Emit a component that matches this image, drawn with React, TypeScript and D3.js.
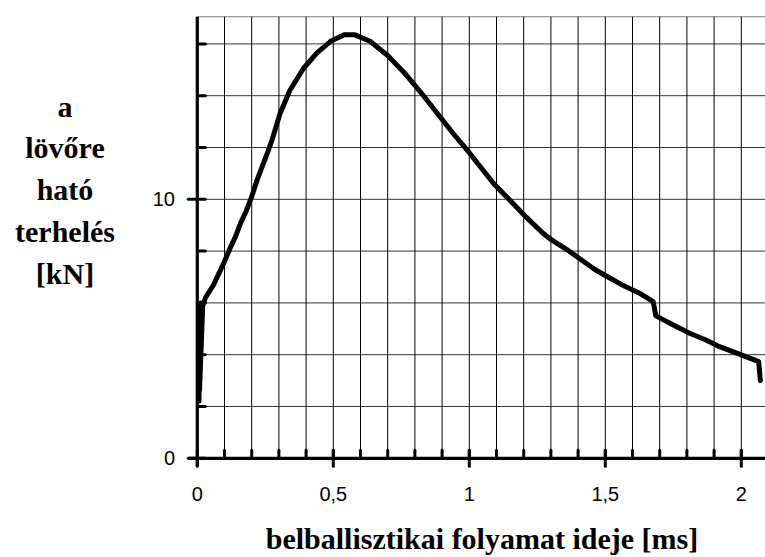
import React from "react";
import * as d3 from "d3";

const times = [0.006, 0.012, 0.008, 0.020, 0.030, 0.045, 0.060, 0.080, 0.100, 0.120, 0.140, 0.160, 0.180, 0.200, 0.220, 0.240, 0.260, 0.275, 0.304, 0.340, 0.390, 0.440, 0.490, 0.540, 0.580, 0.635, 0.700, 0.760, 0.820, 0.880, 0.940, 1.000, 1.090, 1.160, 1.210, 1.270, 1.300, 1.360, 1.400, 1.460, 1.510, 1.570, 1.630, 1.676, 1.686, 1.750, 1.810, 1.870, 1.920, 2.000, 2.064, 2.070];
const forces = [2.2, 6.0, 2.6, 5.9, 6.2, 6.45, 6.7, 7.15, 7.6, 8.1, 8.55, 9.1, 9.55, 10.1, 10.75, 11.3, 11.85, 12.3, 13.3, 14.2, 15.05, 15.65, 16.1, 16.35, 16.35, 16.1, 15.55, 14.9, 14.15, 13.35, 12.55, 11.8, 10.6, 9.85, 9.3, 8.7, 8.45, 8.05, 7.75, 7.3, 7.0, 6.65, 6.35, 6.05, 5.5, 5.15, 4.83, 4.57, 4.31, 3.99, 3.73, 3.0];

const xTickValues = [0, 0.5, 1, 1.5, 2];
const xTickLabels = ["0", "0,5", "1", "1,5", "2"];
const yTickValues = [0, 10];
const yTickLabels = ["0", "10"];
const yTitleLines = ["a", "lövőre", "ható", "terhelés", "[kN]"];
const xTitle = "belballisztikai folyamat ideje [ms]";

const W = 765;
const H = 557;
const yMax = 17.05;

export default function App() {
  const x = d3.scaleLinear().domain([0, 2]).range([197.3, 741.3]);
  const y = d3.scaleLinear().domain([0, 10]).range([458.3, 199.3]);
  const rightEdge = W;
  const topY = y(yMax);

  const minorX = d3.range(1, 22).map((i) => i / 10).filter((v) => x(v) < rightEdge - 1);
  const gridY = d3.range(2, 17, 2);
  const minorY = gridY.filter((v) => !yTickValues.includes(v));

  const pts: [number, number][] = times.map((t, i) => [t, forces[i]]);
  const line = d3
    .line<[number, number]>()
    .x((d) => x(d[0]))
    .y((d) => y(d[1]))
    .curve(d3.curveLinear);

  const serif = "'Liberation Serif', 'Times New Roman', serif";
  const sans = "'Liberation Sans', Arial, sans-serif";

  return (
    <svg
      width={W}
      height={H}
      viewBox={`0 0 ${W} ${H}`}
      style={{ position: "absolute", left: 0, top: 0, background: "#fff" }}
    >
      <rect x={0} y={0} width={W} height={H} fill="#fff" />
      <line x1={x(0)} x2={rightEdge} y1={topY} y2={topY} stroke="#999" strokeWidth={1.2} />
      {gridY.map((v) => (
        <line key={"gy" + v} x1={x(0)} x2={rightEdge} y1={y(v)} y2={y(v)} stroke="#333" strokeWidth={1} />
      ))}
      {minorX.map((v) => (
        <line key={"gx" + v} x1={x(v)} x2={x(v)} y1={topY} y2={y(0)} stroke="#000" strokeWidth={1} />
      ))}
      {minorX.map((v) => (
        <line key={"tx" + v} x1={x(v)} x2={x(v)} y1={y(0)} y2={y(0) - 8} stroke="#000" strokeWidth={3} strokeLinecap="round" />
      ))}
      {xTickValues.map((v) => (
        <line key={"mx" + v} x1={x(v)} x2={x(v)} y1={y(0) - 8} y2={y(0) + 8} stroke="#000" strokeWidth={3} strokeLinecap="round" />
      ))}
      {minorY.map((v) => (
        <line key={"ty" + v} x1={x(0)} x2={x(0) + 8} y1={y(v)} y2={y(v)} stroke="#000" strokeWidth={3} strokeLinecap="round" />
      ))}
      {yTickValues.map((v) => (
        <line key={"my" + v} x1={x(0) - 9} x2={x(0) + 8} y1={y(v)} y2={y(v)} stroke="#000" strokeWidth={3} strokeLinecap="round" />
      ))}
      <line x1={x(0) - 9} x2={rightEdge} y1={y(0)} y2={y(0)} stroke="#000" strokeWidth={3.2} />
      <line x1={x(0)} x2={x(0)} y1={topY} y2={y(0) + 8} stroke="#000" strokeWidth={3.2} />
      <path d={line(pts) || ""} fill="none" stroke="#000" strokeWidth={5} strokeLinejoin="round" strokeLinecap="round" />
      {xTickValues.map((v, i) => (
        <text key={"xl" + v} x={x(v)} y={501} textAnchor="middle" fontFamily={sans} fontSize={20} fill="#000">
          {xTickLabels[i]}
        </text>
      ))}
      {yTickValues.map((v, i) => (
        <text key={"yl" + v} x={175} y={y(v) + 7} textAnchor="end" fontFamily={sans} fontSize={20} fill="#000">
          {yTickLabels[i]}
        </text>
      ))}
      {yTitleLines.map((s, i) => (
        <text key={"yt" + i} x={65} y={116.5 + i * 41.8} textAnchor="middle" fontFamily={serif} fontWeight="bold" fontSize={30} fill="#000">
          {s}
        </text>
      ))}
      <text x={482} y={549} textAnchor="middle" fontFamily={serif} fontWeight="bold" fontSize={30} fill="#000">
        {xTitle}
      </text>
    </svg>
  );
}
